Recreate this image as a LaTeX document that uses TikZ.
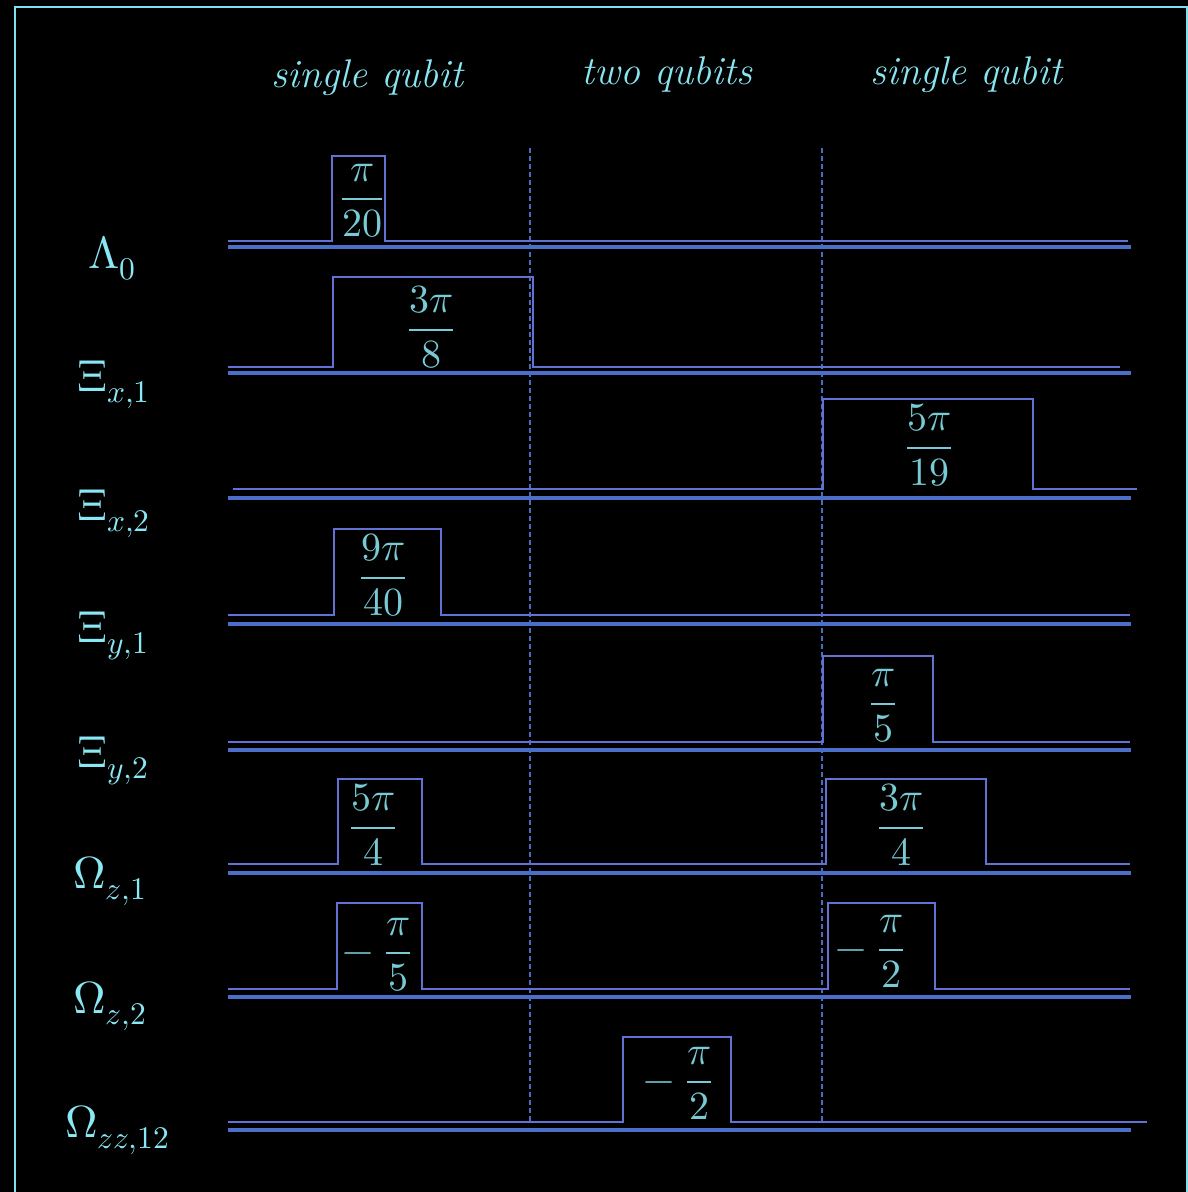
\documentclass[tikz,border=0pt]{standalone}
\usepackage{unicode-math}
\setmathfont{Latin Modern Math}
\definecolor{labc}{HTML}{8AE8F4}
\definecolor{hdrc}{HTML}{88E4F0}
\definecolor{frcc}{HTML}{78CAD4}
\definecolor{pulsec}{HTML}{6272D4}
\definecolor{axisc}{HTML}{4B6EC8}
\definecolor{sepc}{HTML}{4A6AC0}
\definecolor{framec}{HTML}{80E0F0}
\begin{document}
\begin{tikzpicture}[x=1pt,y=-1pt,
  lab/.style={text=labc, inner sep=0, anchor=base west, font=\fontsize{45}{50}\selectfont},
  hdr/.style={text=hdrc, inner sep=0, anchor=base, font=\fontsize{40}{48}\selectfont\itshape},
  frc/.style={text=frcc, inner sep=0, anchor=base, font=\fontsize{40}{48}\selectfont},
  pulse/.style={draw=pulsec, line width=2.9pt, line join=miter},
  axisline/.style={draw=axisc, line width=4pt},
  sepline/.style={draw=sepc, line width=1.3pt, dash pattern=on 5pt off 3pt},
  frameline/.style={draw=framec, line width=2.8pt}]
\fill[black] (0,0) rectangle (1188,1192);
\useasboundingbox (0,0) rectangle (1188,1192);
% frame
\draw[frameline] (15,1196) -- (15,7) -- (1187,7) -- (1187,1196);
% headers
\node[hdr] (h1) at (367,87) {single qubit};
\node[hdr] (h2) at (667,84) {two qubits};
\node[hdr] (h3) at (966,84) {single qubit};
% separators
\coordinate (s1t) at (530,148); \coordinate (s1b) at (530,1122);
\coordinate (s2t) at (822,148); \coordinate (s2b) at (822,1122);
\draw[sepline] (s1t) -- (s1b);
\draw[sepline] (s2t) -- (s2b);
% axis lines
\foreach \y in {247,373,498,624,750,873,997,1130}
  \draw[axisline] (228,\y) -- (1131,\y);
% pulses
\draw[pulse] (228,241) -| (332,156) -| (385,241) -- (1128,241);
\draw[pulse] (228,367) -| (333,277) -| (533,367) -- (1120,367);
\draw[pulse] (233,489) -| (823,399) -| (1033,489) -- (1137,489);
\draw[pulse] (228,615) -| (334,529) -| (441,615) -- (1130,615);
\draw[pulse] (228,742) -| (823,656) -| (933,742) -- (1130,742);
\draw[pulse] (228,864) -| (338,779) -| (422,864) -- (826,864) -- (826,779) -| (986,864) -- (1130,864);
\draw[pulse] (228,989) -| (337,903) -| (422,989) -- (828,989) -- (828,903) -| (935,989) -- (1130,989);
\draw[pulse] (228,1122) -| (623,1037) -| (731,1122) -- (1147,1122);
% pulse labels (base = bar + axis height)
\node[frc] (f1) at (362,209) {$\dfrac{\pi}{20}$};
\node[frc] (f2) at (431,340) {$\dfrac{3\pi}{8}$};
\node[frc] (f3) at (929,458) {$\dfrac{5\pi}{19}$};
\node[frc] (f4) at (383,588) {$\dfrac{9\pi}{40}$};
\node[frc] (f5) at (883,714) {$\dfrac{\pi}{5}$};
\node[frc] (f6) at (373,838) {$\dfrac{5\pi}{4}$};
\node[frc] (f7) at (901,838) {$\dfrac{3\pi}{4}$};
\node[frc] (f8) at (377,963) {$-\;\dfrac{\pi}{5}$};
\node[frc] (f9) at (870,960) {$-\;\dfrac{\pi}{2}$};
\node[frc] (f10) at (678,1092) {$-\;\dfrac{\pi}{2}$};
% row labels
\node[lab] (l1) at (88,268) {$\Lambda_0$};
\node[lab] (l2) at (77,391) {$\Xi_{x,1}$};
\node[lab] (l3) at (77,520) {$\Xi_{x,2}$};
\node[lab] (l4) at (77,642) {$\Xi_{y,1}$};
\node[lab] (l5) at (77,767) {$\Xi_{y,2}$};
\node[lab] (l6) at (73,888) {$\Omega_{z,1}$};
\node[lab] (l7) at (73,1013) {$\Omega_{z,2}$};
\node[lab] (l8) at (65,1137) {$\Omega_{zz,12}$};
\end{tikzpicture}
\end{document}
